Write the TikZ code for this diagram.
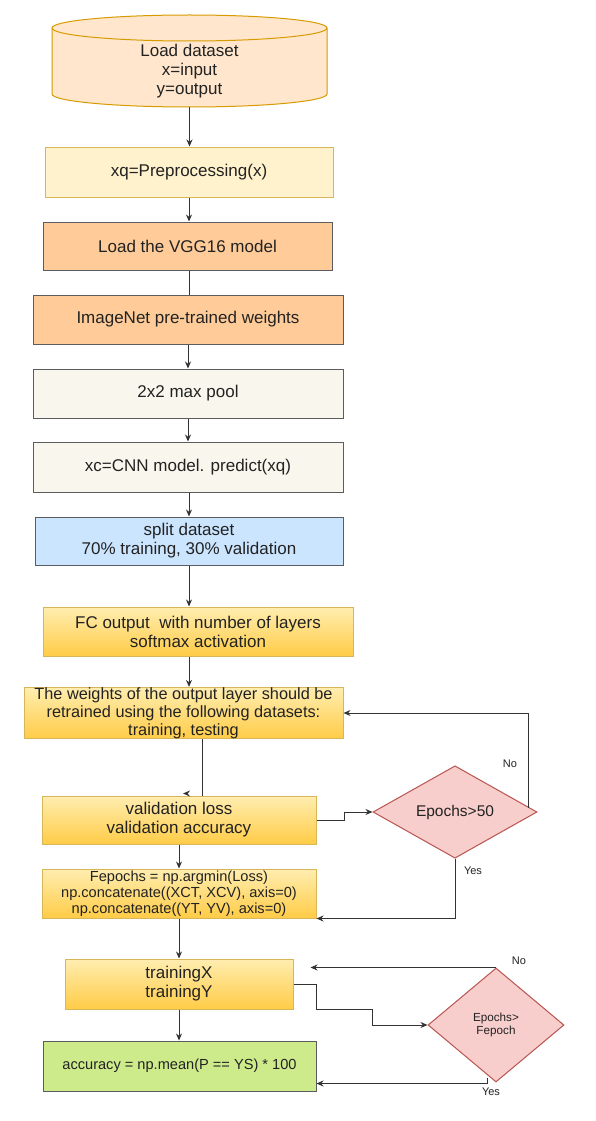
\documentclass[tikz,border=0pt]{standalone}
\usepackage{fontspec}
\setmainfont{Liberation Sans}
\usetikzlibrary{shapes.geometric,arrows.meta,calc}
\definecolor{txt}{HTML}{222222}
\definecolor{linec}{HTML}{333333}
\definecolor{cylfill}{HTML}{FFE6CC}
\definecolor{cylstroke}{HTML}{D79B00}
\definecolor{prefill}{HTML}{FFF2CC}
\definecolor{prestroke}{HTML}{D6B656}
\definecolor{peach}{HTML}{FFCC99}
\definecolor{darkstroke}{HTML}{5A5C60}
\definecolor{cream}{HTML}{F9F7ED}
\definecolor{lblue}{HTML}{CCE5FF}
\definecolor{lgreen}{HTML}{CDEB8B}
\definecolor{pink}{HTML}{F8CECC}
\definecolor{pinkstroke}{HTML}{B85450}
\definecolor{gtop}{HTML}{FFEDB0}
\definecolor{gbot}{HTML}{FFCC47}
\definecolor{gstroke}{HTML}{D6B656}
\begin{document}
\begin{tikzpicture}[x=1pt,y=-1pt,
  base/.style={rectangle, inner sep=0pt, align=center, text=txt, line width=1pt,
    font=\fontsize{17}{19}\selectfont},
  sz/.style n args={2}{minimum width=#1pt, minimum height=#2pt},
  prebox/.style={base, fill=prefill, draw=prestroke},
  peachbox/.style={base, fill=peach, draw=darkstroke},
  creambox/.style={base, fill=cream, draw=darkstroke},
  bluebox/.style={base, fill=lblue, draw=darkstroke},
  greenbox/.style={base, fill=lgreen, draw=darkstroke},
  gradbox/.style={base, top color=gtop, bottom color=gbot, draw=gstroke},
  decision/.style={diamond, inner sep=0pt, align=center, text=txt, line width=1pt,
    fill=pink, draw=pinkstroke},
  conn/.style={draw=linec, line width=1pt},
  arr/.style={conn, -{Stealth[length=7pt,width=6pt]}},
  lbl/.style={text=txt, font=\fontsize{11}{13}\selectfont, inner sep=0pt}
]
\useasboundingbox[fill=white] (0,0) rectangle (595,1121);

% cylinder
\path[fill=cylfill, draw=cylstroke, line width=1pt]
  (52,28) -- (52,94) arc[start angle=180, end angle=0, x radius=137.5, y radius=13]
  -- (327,28) arc[start angle=0, end angle=-180, x radius=137.5, y radius=13] -- cycle;
\draw[draw=cylstroke, line width=1pt] (52,28) arc[start angle=180, end angle=0, x radius=137.5, y radius=13];
\node[base, sz={275}{72}] (load) at (189.5,71) {Load dataset\\x=input\\y=output};

\node[prebox, sz={288}{50}] (pre) at (189,172) {xq=Preprocessing(x)};
\node[peachbox, sz={289}{48}] (vgg) at (187.5,246) {Load the VGG16 model};
\node[peachbox, sz={310}{49}] (img) at (188,319.5) {ImageNet pre-trained weights};
\node[creambox, sz={310}{49}] (pool) at (188,393.5) {2x2 max pool};
\node[creambox, sz={310}{50}] (xc) at (188,467) {xc=CNN model. predict(xq)};
\node[bluebox, sz={308}{48}] (split) at (189,541) {split dataset\\70\% training, 30\% validation};
\node[gradbox, sz={310}{49}] (fc) at (198,631.5) {FC output\ \ with number of layers\\softmax activation};
\node[gradbox, sz={319}{50}, font=\fontsize{16.3}{18}\selectfont] (wts) at (183.5,713)
  {The weights of the output layer should be\\retrained using the following datasets:\\training, testing};
\node[gradbox, sz={274}{48}] (val) at (179,820) {validation loss\\validation accuracy};
\node[gradbox, sz={274}{49}, font=\fontsize{14.6}{15.8}\selectfont] (fep) at (179,893.5)
  {Fepochs = np.argmin(Loss)\\np.concatenate((XCT, XCV), axis=0)\\np.concatenate((YT, YV), axis=0)};
\node[gradbox, sz={228}{50}] (trn) at (179,984) {trainingX\\trainingY};
\node[greenbox, sz={273}{50}, font=\fontsize{14.6}{16}\selectfont] (acc) at (179.5,1066)
  {accuracy = np.mean(P == YS) * 100};

\node[decision, minimum width=164pt, minimum height=82pt, font=\fontsize{15.5}{17}\selectfont] (d1) at (455,812) {Epochs>50};
\node[decision, minimum width=136pt, minimum height=114pt, font=\fontsize{11.7}{12.5}\selectfont] (d2) at (496,1025) {Epochs>\\Fepoch};

% main flow
\draw[arr] (load.south) -- (load.south |- pre.north);
\draw[arr] (pre.south) -- (pre.south |- vgg.north);
\draw[conn] ([xshift=1.5]vgg.south) -- ([xshift=1.5]vgg.south |- img.north);
\draw[arr] (img.south) -- (img.south |- pool.north);
\draw[arr] (pool.south) -- (pool.south |- xc.north);
\draw[arr] ([xshift=1]xc.south) -- ([xshift=1]xc.south |- split.north);
\draw[arr] (split.south) -- (split.south |- fc.north);
\draw[arr] ([xshift=-9]fc.south) -- ([xshift=-9]fc.south |- wts.north);
\draw[conn] ([xshift=18.5]wts.south) -- ([xshift=18.5]wts.south |- val.north);
\draw[arr] ([shift={(8,-2)}]val.north) -- ([shift={(4,-2)}]val.north);
\draw[arr] (val.south) -- (fep.north);
\draw[arr] (fep.south) -- (trn.north);
\draw[arr] (trn.south) -- (trn.south |- acc.north);

% first loop
\draw[arr] (val.east) -- ++(28,0) |- (d1.west);
\draw[arr] ([shift={(-9,-4.5)}]d1.east) |- (wts.east);
\draw[arr] (d1.south) |- (fep.south east);
\node[lbl] (no1) at (510,764) {No};
\node[lbl] (yes1) at (473,871) {Yes};

% second loop
\draw[arr] (trn.east) -- ++(23,0) -- ++(0,25) -- ++(56,0) |- (d2.west);
\draw[arr] (d2.north) -- ([xshift=17]trn.east |- d2.north);
\draw[arr] ([shift={(-9,-5)}]d2.south) |- ([yshift=8]acc.south east);
\node[lbl] (no2) at (519,961) {No};
\node[lbl] (yes2) at (491,1092) {Yes};
\end{tikzpicture}
\end{document}
